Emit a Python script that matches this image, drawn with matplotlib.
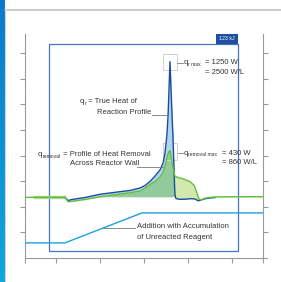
import numpy as np
import matplotlib.pyplot as plt
from matplotlib.patches import Rectangle
from matplotlib.lines import Line2D
from matplotlib.colors import LinearSegmentedColormap
from matplotlib.transforms import offset_copy

plt.rcParams['font.family'] = ['Liberation Sans Narrow', 'Liberation Sans', 'DejaVu Sans']

# time in min, heat in W
t = [0, 3.4, 16.8, 17.5, 18.1, 18.9, 19.8, 25.2, 31.6, 37.9, 44.2, 48.4, 50.5, 52.6,
     54.7, 56.8, 58.1, 58.9, 59.3, 59.7, 60.2, 60.6, 61.0, 61.4, 61.8, 62.3, 62.7,
     62.9, 63.1, 63.5, 64.4, 65.2, 67.3, 69.4, 71.1, 71.9, 72.6, 73.2, 74.0, 75.3,
     77.0, 79.9, 86.2, 100]
q_removal = [0, 0, 0, -20, -41, -39, -37, -20, 5, 24, 42, 58, 86, 118,
             146, 187, 233, 289, 325, 372, 404, 422, 430, 390, 325, 270, 224,
             206, 196, 190, 183, 178, 164, 144, 113, 67, 21, -16, -25, -11,
             -3, 3, 5, 6]
nan = np.nan
q_r = [nan, nan, 0, -16, -30, -25, -20, -2, 28, 46, 63, 86, 109, 146,
       196, 252, 316, 408, 491, 574, 759, 1008, 1250, 1017, 786, 528, 252,
       113, 21, -11, -16, -18, -18, -13, -14, -20, -30, -31, -25, -16,
       -8, -2, nan, nan]

band_t = [3.4, 16.8]
band_q = [0, 0]

dose_t = [0, 16.8, 49.2, 100]
dose_level = [0.59, 0.59, 1.76, 1.76]

x_ticks = [0, 13, 31.5, 50, 68.5, 87, 100]
y_ticks = [1, 2, 3, 4, 5, 6, 7, 8]

t = np.array(t)
q_removal = np.array(q_removal, dtype=float)
q_r = np.array(q_r, dtype=float)
q_r_fill = np.where(np.isnan(q_r), q_removal, q_r)

txt = '#333333'
gray = '#9a9a9a'
fs = 5.5
fs_sub = 3.6

fig = plt.figure(figsize=(2.81, 2.82), dpi=100)

# blue strip on the left
strip = fig.add_axes([0, 0, 4.5 / 281, 1])
cmap = LinearSegmentedColormap.from_list('strip', ['#0b7acd', '#0ea7de'])
strip.imshow(np.linspace(0, 1, 100).reshape(-1, 1), aspect='auto', cmap=cmap)
strip.axis('off')
fig.add_artist(Line2D([5 / 281, 1], [1 - 9.5 / 282] * 2, color='#bdbdbd', lw=1.1))
fig.add_artist(Line2D([5 / 281] * 2, [0, 1 - 9.5 / 282], color='#d2d2d2', lw=0.8))

ax = fig.add_axes([25 / 281, 24 / 282, 237.7 / 281, 224 / 282])
ax_heat = ax.twinx()
ax.set_xlim(0, 100)
ax.set_ylim(0, 8.75)
ax_heat.set_ylim(-559.5, 1505.3)
ax_heat.axis('off')

for s in ['left', 'right', 'bottom']:
    ax.spines[s].set_color(gray)
    ax.spines[s].set_linewidth(0.8)
ax.spines['top'].set_visible(False)
ax.spines['bottom'].set_bounds(0, 101.7)
ax.set_xticks(x_ticks)
ax.set_yticks(y_ticks)
ax.tick_params(direction='out', length=3.6, width=0.8, color=gray,
               labelleft=False, labelbottom=False, labelright=False,
               left=True, right=True, bottom=True)

# blue frame with label
ax.add_patch(Rectangle((10.1, 0.285), 79.5, 8.075, fill=False, ec='#4574c4',
                       lw=0.9, clip_on=False, zorder=1))
ax.add_patch(Rectangle((80.4, 8.36), 9.2, 0.39, fc='#1f4fa0', ec='none',
                       clip_on=False, zorder=1))
ax.text(85.0, 8.555, '123 kJ', color='white', fontsize=3.8, ha='center',
        va='center', zorder=2)

# dosing
ax.plot(dose_t, dose_level, color='#1ba2e2', lw=1.0, zorder=3)

# heat curves
low = np.minimum(q_removal, q_r_fill)
ax_heat.fill_between(t, 0, low, where=low > 0, color='#93ca9b', lw=0, interpolate=True)
ax_heat.fill_between(t, q_removal, q_r_fill, where=q_r_fill > q_removal,
                     color='#add7f1', lw=0, interpolate=True)
ax_heat.fill_between(t, q_r_fill, q_removal, where=q_removal > q_r_fill,
                     color='#d2e8ae', lw=0, interpolate=True)
ax_heat.plot(band_t, band_q, color='#a9d993', lw=2.4, solid_capstyle='butt')
ax_heat.plot(t, q_r, color='#1b4c9c', lw=1.0)
ax_heat.plot(t, q_removal, color='#66bd3b', lw=1.0)

# peak markers
i_r = int(np.nanargmax(q_r))
i_m = int(np.argmax(q_removal))
ax_heat.add_patch(Rectangle((t[i_r] - 3.0, q_r[i_r] - 75), 6.0, 150, fill=False,
                            ec='#d0d0d0', lw=0.7))
ax_heat.add_patch(Rectangle((t[i_m] - 2.9, q_removal[i_m] - 85), 5.8, 160, fill=False,
                            ec='#d0d0d0', lw=0.7))

lead = dict(color='#777777', lw=0.6)
ax_heat.plot([63.9, 66.3], [1238, 1238], **lead)
ax_heat.plot([64.4, 66.5], [406, 406], **lead)
ax_heat.plot([53.4, 59.7], [759, 759], **lead)
ax_heat.plot([47.3, 58.1], [282, 282], **lead)
ax_heat.plot([32.8, 46.3], [-283, -283], **lead)

renderer = fig.canvas.get_renderer()


def label(x, y, parts):
    # parts: list of (text, is_subscript); pieces placed side by side
    dx = 0
    for s, sub in parts:
        tr = offset_copy(ax_heat.transData, fig=fig, x=dx, y=-1.5 if sub else 0,
                         units='dots')
        tx = ax_heat.text(x, y, s, fontsize=fs_sub if sub else fs, color=txt,
                          ha='left', va='center', transform=tr)
        dx += tx.get_window_extent(renderer).width


label(23.1, 881, [('q', 0), ('r', 1), (' = True Heat of', 0)])
label(30.3, 786, [('Reaction Profile', 0)])
label(5.5, 390, [('q', 0), ('removal', 1), (' = Profile of Heat Removal', 0)])
label(18.9, 307, [('Across Reactor Wall', 0)])
label(66.7, 1238, [('q', 0), ('r max', 1)])
label(75.7, 1241, [('= 1250 W', 0)])
label(75.7, 1149, [('= 2500 W/L', 0)])
label(66.9, 406, [('q', 0), ('removal max', 1)])
label(82.9, 406, [('= 430 W', 0)])
label(82.9, 319, [('= 860 W/L', 0)])
label(47.1, -265, [('Addition with Accumulation', 0)])
label(47.1, -366, [('of Unreacted Reagent', 0)])

fig.savefig('out.png', dpi=100, facecolor='white')
